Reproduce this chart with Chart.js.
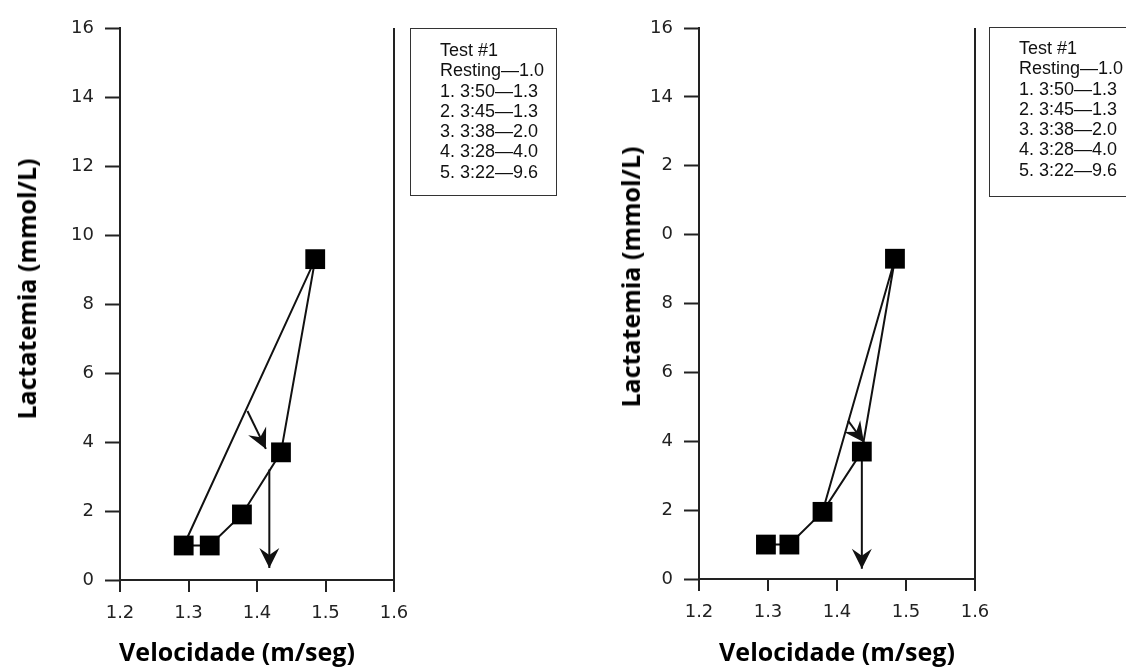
<!DOCTYPE html>
<html>
<head>
<meta charset="utf-8">
<script src="https://cdn.jsdelivr.net/npm/chart.js@4.4.1/dist/chart.umd.min.js"></script>
<style>
  body { margin:0; width:1126px; height:669px; overflow:hidden; background:#fff; position:relative; }
  canvas { position:absolute; top:0; }
  .legenda { position:absolute; box-sizing:border-box; border:1.5px solid #333; font:18px "Liberation Sans", Arial, sans-serif; color:#111; line-height:20.3px; white-space:nowrap; overflow:hidden; }
  .titulo { position:absolute; font:bold 25px "Open Sans", sans-serif; color:#000; white-space:nowrap; transform:translate(-50%,-50%); }
  .titulo.vert { transform:translate(-50%,-50%) rotate(-90deg); }
</style>
</head>
<body>
<canvas id="graficoEsq" width="563" height="669" style="left:0"></canvas>
<canvas id="graficoDir" width="563" height="669" style="left:563px"></canvas>

<div class="legenda" id="legEsq" style="left:410px; top:28px; width:147px; height:168px; padding:11px 0 0 29px"></div>
<div class="legenda" id="legDir" style="left:989px; top:27px; width:170px; height:170px; padding:10px 0 0 29px"></div>

<div class="titulo vert" style="left:26px; top:289px">Lactatemia (mmol/L)</div>
<div class="titulo" style="left:237px; top:651px">Velocidade (m/seg)</div>
<div class="titulo vert" style="left:630px; top:277px">Lactatemia (mmol/L)</div>
<div class="titulo" style="left:837px; top:651px">Velocidade (m/seg)</div>

<script>
// dados
const legendaLinhas = ["Test #1", "Resting\u20141.0", "1. 3:50\u20141.3", "2. 3:45\u20141.3", "3. 3:38\u20142.0", "4. 3:28\u20144.0", "5. 3:22\u20149.6"];
const xTicks = ["1.2", "1.3", "1.4", "1.5", "1.6"];
const yTicksEsq = ["0", "2", "4", "6", "8", "10", "12", "14", "16"];
const yTicksDir = ["0", "2", "4", "6", "8", "0", "2", "14", "16"]; // o "1" some na figura da direita

// teste esquerdo
const velEsq = [1.293, 1.331, 1.378, 1.435, 1.485];
const lactEsq = [1.0, 1.0, 1.9, 3.7, 9.3];
const caminhoEsq = [0, 1, 2, 3, 4, 0];
const setasEsq = [
  [[1.386, 4.9], [1.413, 3.8]],
  [[1.418, 3.2], [1.418, 0.35]]
];

// teste direito
const velDir = [1.297, 1.331, 1.379, 1.436, 1.484];
const lactDir = [1.0, 1.0, 1.95, 3.7, 9.3];
const caminhoDir = [0, 1, 2, 3, 4, 2];
const setasDir = [
  [[1.416, 4.6], [1.439, 3.97]],
  [[1.436, 3.7], [1.436, 0.3]]
];

document.getElementById("legEsq").innerHTML = legendaLinhas.map(t => "<div>" + t + "</div>").join("");
document.getElementById("legDir").innerHTML = legendaLinhas.map(t => "<div>" + t + "</div>").join("");

// desenha a ponta das setas no fim de cada dataset marcado
const pontaSeta = {
  id: "pontaSeta",
  afterDatasetsDraw(chart) {
    const ctx = chart.ctx;
    chart.data.datasets.forEach((ds, i) => {
      if (!ds.seta) return;
      const pts = chart.getDatasetMeta(i).data;
      const a = pts[0], b = pts[1];
      const ang = Math.atan2(b.y - a.y, b.x - a.x);
      ctx.save();
      ctx.translate(b.x, b.y);
      ctx.rotate(ang);
      ctx.beginPath();
      ctx.moveTo(0, 0);
      ctx.lineTo(-20, -10);
      ctx.lineTo(-13, 0);
      ctx.lineTo(-20, 10);
      ctx.closePath();
      ctx.fillStyle = "#111";
      ctx.fill();
      ctx.restore();
    });
  }
};

function criarGrafico(id, vel, lact, caminho, setas, yTicks, larguraY, direita, baixo) {
  const datasets = [
    {
      type: "scatter",
      data: vel.map((v, i) => ({ x: v, y: lact[i] })),
      pointStyle: "rect",
      pointRadius: 14,
      backgroundColor: "#000",
      borderWidth: 0,
      order: 0
    },
    {
      type: "line",
      data: caminho.map(i => ({ x: vel[i], y: lact[i] })),
      borderColor: "#111",
      borderWidth: 2,
      pointRadius: 0,
      tension: 0,
      fill: false,
      order: 2
    }
  ];
  setas.forEach(s => {
    datasets.push({
      type: "line",
      seta: true,
      data: s.map(p => ({ x: p[0], y: p[1] })),
      borderColor: "#111",
      borderWidth: 2,
      pointRadius: 0,
      fill: false,
      order: 1
    });
  });

  const fonteTick = { family: "DejaVu Sans", size: 18 };

  new Chart(document.getElementById(id), {
    data: { datasets: datasets },
    options: {
      responsive: false,
      animation: false,
      layout: { padding: { left: 0, top: 28, right: direita, bottom: 0 } },
      plugins: { legend: { display: false }, tooltip: { enabled: false } },
      scales: {
        x: {
          type: "linear",
          min: 1.2,
          max: 1.6,
          ticks: { stepSize: 0.1, callback: (v, i) => xTicks[i], font: fonteTick, color: "#222", padding: 11 },
          grid: {
            drawOnChartArea: true,
            color: c => c.index === xTicks.length - 1 ? "#222" : "rgba(0,0,0,0)",
            lineWidth: 2,
            tickLength: 12,
            tickColor: "#222",
            tickWidth: 2
          },
          border: { display: true, color: "#222", width: 2 },
          afterFit: s => { s.height = baixo; }
        },
        y: {
          type: "linear",
          min: 0,
          max: 16,
          ticks: { stepSize: 2, callback: (v, i) => yTicks[i], font: fonteTick, color: "#222", padding: 11 },
          grid: { drawOnChartArea: false, tickLength: 15, tickColor: "#222", tickWidth: 2 },
          border: { display: true, color: "#222", width: 2 },
          afterFit: s => { s.width = larguraY; }
        }
      }
    },
    plugins: [pontaSeta]
  });
}

criarGrafico("graficoEsq", velEsq, lactEsq, caminhoEsq, setasEsq, yTicksEsq, 120, 169, 89);
criarGrafico("graficoDir", velDir, lactDir, caminhoDir, setasDir, yTicksDir, 136, 151, 90);
</script>
</body>
</html>
